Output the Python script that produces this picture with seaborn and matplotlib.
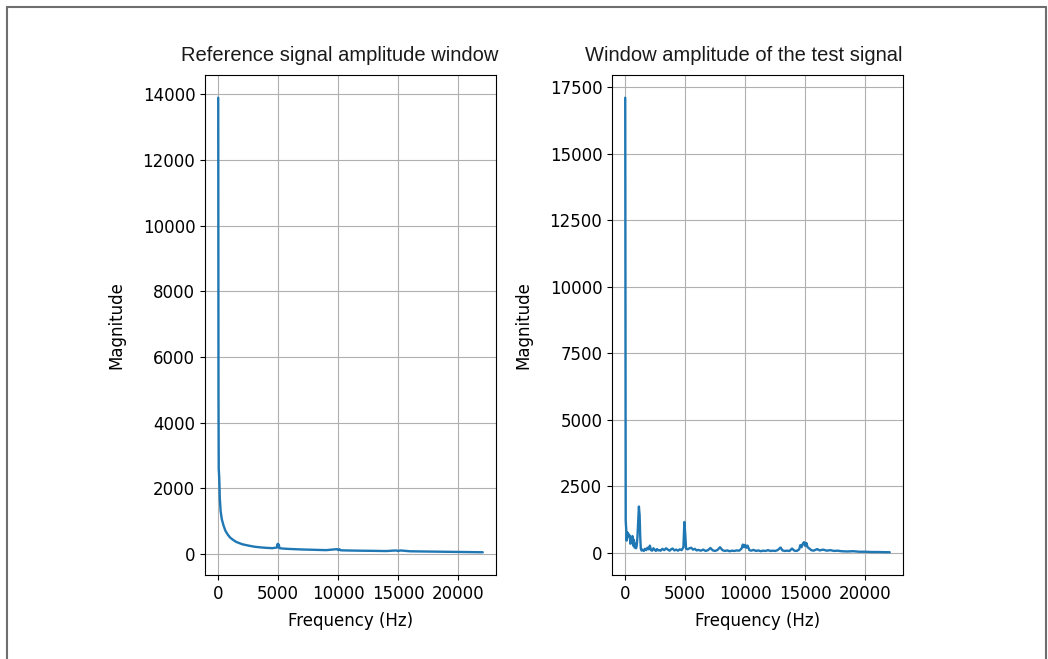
import matplotlib
matplotlib.use("Agg")
import matplotlib.pyplot as plt
import seaborn as sns
import pandas as pd
from matplotlib.lines import Line2D

# ---- data ----
ref_freq = [0, 22, 43, 86, 130, 200, 300, 450, 600, 800, 1000, 1250, 1500, 2000, 2500,
            3000, 3500, 4000, 4500, 4900, 4950, 5000, 5050, 5100, 5500, 6000, 7000, 8000,
            9000, 9900, 10000, 10100, 10200, 11000, 12000, 13000, 14000, 14800, 15000,
            15200, 16000, 17000, 18000, 19000, 20000, 21000, 22050]
ref_mag = [13900, 4800, 2600, 2300, 1700, 1300, 1050, 850, 700, 580, 490, 420, 360, 290, 250,
           215, 195, 180, 170, 190, 300, 230, 280, 170, 155, 145, 130, 120,
           110, 140, 110, 140, 105, 98, 92, 88, 82, 100, 85,
           100, 75, 70, 65, 60, 55, 50, 45]

test_freq = [0, 40, 80, 120, 170, 220, 270, 320, 380, 430, 480, 540, 600, 660, 720, 780,
             840, 900, 960, 1020, 1080, 1140, 1200, 1250, 1300, 1360, 1450, 1550, 1650,
             1750, 1850, 1950, 2050, 2150, 2250, 2350, 2450, 2550, 2650, 2750, 2850, 2950,
             3100, 3250, 3400, 3550, 3700, 3850, 3950, 4100, 4250, 4400, 4550, 4700, 4850,
             4930, 5000, 5070, 5200, 5350, 5500, 5650, 5800, 5950, 6100, 6300, 6500, 6700,
             6900, 7100, 7300, 7500, 7700, 7900, 8100, 8300, 8500, 8700, 8900, 9100, 9300,
             9500, 9700, 9800, 9900, 10000, 10100, 10200, 10350, 10500, 10700, 10900, 11100,
             11300, 11500, 11700, 11900, 12100, 12300, 12500, 12700, 12950, 13100, 13300,
             13500, 13700, 13900, 14100, 14300, 14500, 14600, 14700, 14800, 14900, 15000,
             15100, 15200, 15350, 15500, 15700, 16000, 16200, 16500, 16800, 17100, 17400,
             17700, 18000, 18500, 19000, 19500, 20000, 20500, 21000, 21500, 22050]
test_mag = [17100, 1200, 900, 450, 760, 620, 700, 575, 640, 330, 575, 420, 620, 260, 480, 190,
            330, 160, 260, 600, 1150, 1730, 1400, 600, 150, 75, 110, 60, 140,
            90, 180, 120, 260, 90, 70, 160, 110, 60, 130, 80, 90, 70,
            140, 90, 160, 110, 70, 130, 150, 80, 110, 70, 120, 90, 200,
            1150, 700, 150, 120, 160, 180, 110, 140, 80, 100, 70, 110, 60,
            90, 170, 80, 60, 100, 200, 90, 60, 80, 50, 70, 60, 80,
            70, 150, 300, 200, 290, 180, 260, 90, 70, 100, 60, 80,
            50, 70, 60, 90, 60, 70, 60, 90, 190, 80, 60,
            70, 60, 150, 70, 60, 120, 280, 200, 330, 390, 250,
            360, 200, 150, 90, 70, 130, 80, 110, 70, 90, 60,
            70, 50, 40, 50, 30, 30, 20, 20, 15, 10]

titles = ["Reference signal amplitude window", "Window amplitude of the test signal"]
xlabel = "Frequency (Hz)"
ylabel = "Magnitude"

# ---- style ----
sns.set_theme(style="ticks", rc={
    "axes.grid": True,
    "grid.color": "#b0b0b0",
    "grid.linewidth": 0.8,
    "axes.edgecolor": "black",
    "axes.linewidth": 0.8,
    "xtick.major.size": 3.5,
    "ytick.major.size": 3.5,
    "xtick.major.width": 0.8,
    "ytick.major.width": 0.8,
    "xtick.labelsize": 12,
    "ytick.labelsize": 12,
    "axes.labelsize": 12,
    "text.color": "black",
    "axes.labelcolor": "black",
    "xtick.color": "black",
    "ytick.color": "black",
})
plt.rcParams["font.family"] = ["DejaVu Sans"]

W, H = 1048, 659
fig = plt.figure(figsize=(W / 100, H / 100), dpi=100)
fig.patch.set_facecolor("white")

def box(l, t, r, b):
    return [l / W, 1 - b / H, (r - l) / W, (b - t) / H]

ax1 = fig.add_axes(box(205, 75, 496, 575))
ax2 = fig.add_axes(box(612, 75, 903, 575))

df1 = pd.DataFrame({"f": ref_freq, "m": ref_mag})
df2 = pd.DataFrame({"f": test_freq, "m": test_mag})

for ax, df, title, tx in [(ax1, df1, titles[0], 0.462), (ax2, df2, titles[1], 0.452)]:
    sns.lineplot(data=df, x="f", y="m", ax=ax, color="#1f77b4", linewidth=1.7,
                 estimator=None, sort=False)
    ax.set_xlabel(xlabel, labelpad=7)
    ax.set_ylabel(ylabel, labelpad=12)
    ax.set_xticks([0, 5000, 10000, 15000, 20000])
    ax.margins(x=0.05, y=0.05)
    ax.set_title(title, family=["Liberation Sans", "DejaVu Sans"], fontsize=14.5,
                 x=tx, pad=10, color="#1a1a1a")
    ax.grid(True)
    for s in ax.spines.values():
        s.set_color("black")

ax1.set_yticks([0, 2000, 4000, 6000, 8000, 10000, 12000, 14000])
ax2.set_yticks([0, 2500, 5000, 7500, 10000, 12500, 15000, 17500])

# outer frame of the screenshot
frame_c = "#6e6e6e"
fig.add_artist(Line2D([6.5 / W, 6.5 / W], [0, 1 - 6.5 / H], transform=fig.transFigure,
                      color=frame_c, linewidth=1.5))
fig.add_artist(Line2D([6.5 / W, 1046 / W], [1 - 6.5 / H, 1 - 6.5 / H], transform=fig.transFigure,
                      color=frame_c, linewidth=1.5))
fig.add_artist(Line2D([1046 / W, 1046 / W], [0, 1 - 6.5 / H], transform=fig.transFigure,
                      color=frame_c, linewidth=1.5))

fig.savefig("out.png", dpi=100, facecolor="white")
